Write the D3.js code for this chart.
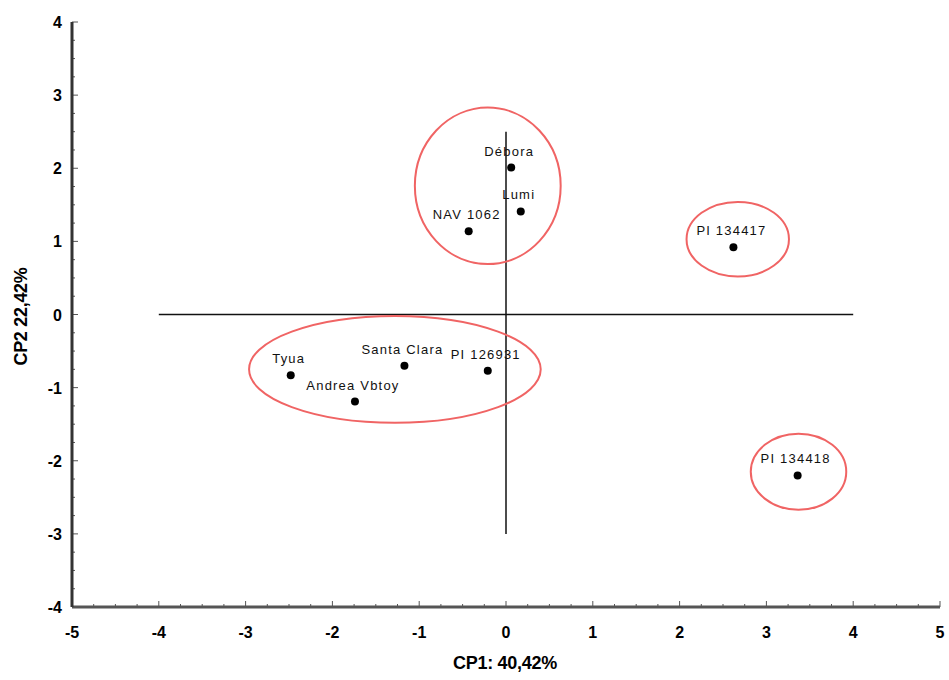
<!DOCTYPE html>
<html>
<head>
<meta charset="utf-8">
<script src="https://cdn.jsdelivr.net/npm/d3@7"></script>
<style>
  body { margin: 0; background: #fff; }
  svg text { font-family: "Liberation Sans", Arial, sans-serif; }
</style>
</head>
<body>
<div id="chart"></div>
<script>
// genotype scores on the first two principal components
const genotypes = ["Débora", "Lumi", "NAV 1062", "PI 134417", "PI 134418", "Tyua", "Andrea Vbtoy", "Santa Clara", "PI 126931"];
const cp1 = [0.06, 0.17, -0.43, 2.62, 3.36, -2.48, -1.74, -1.17, -0.21];
const cp2 = [2.01, 1.41, 1.14, 0.92, -2.20, -0.83, -1.19, -0.70, -0.77];

// group ellipses (centre and radii in axis units)
const groupCx = [-0.21, 2.67, -1.28, 3.37];
const groupCy = [1.76, 1.03, -0.75, -2.15];
const groupRx = [0.84, 0.59, 1.68, 0.55];
const groupRy = [1.07, 0.51, 0.73, 0.52];

const xTicks = [-5, -4, -3, -2, -1, 0, 1, 2, 3, 4, 5];
const yTicks = [-4, -3, -2, -1, 0, 1, 2, 3, 4];

const width = 949, height = 680;
const svg = d3.select("#chart").append("svg")
    .attr("width", width).attr("height", height);

const x = d3.scaleLinear().domain([-5, 5]).range([72, 940]),
    y = d3.scaleLinear().domain([-4, 4]).range([607, 22]);

// minor ticks
const xMinor = d3.range(-5, 5.001, 0.25), yMinor = d3.range(-4, 4.001, 0.25);

const axisColor = "#555";

svg.append("g").selectAll("line")
    .data(xMinor).enter().append("line")
    .attr("x1", d => x(d)).attr("x2", d => x(d))
    .attr("y1", y(-4)).attr("y2", d => y(-4) - (Number.isInteger(d) ? 6 : 3))
    .attr("stroke", axisColor).attr("stroke-width", 1);

svg.append("g").selectAll("line")
    .data(yMinor).enter().append("line")
    .attr("y1", d => y(d)).attr("y2", d => y(d))
    .attr("x1", x(-5)).attr("x2", d => x(-5) + (Number.isInteger(d) ? 6 : 3))
    .attr("stroke", axisColor).attr("stroke-width", 1);

// axis lines
svg.append("line")
    .attr("x1", x(-5)).attr("x2", x(5)).attr("y1", y(-4)).attr("y2", y(-4))
    .attr("stroke", axisColor).attr("stroke-width", 3);
svg.append("line")
    .attr("x1", x(-5)).attr("x2", x(-5)).attr("y1", y(4)).attr("y2", y(-4))
    .attr("stroke", "#333").attr("stroke-width", 3);

// tick labels
svg.append("g").selectAll("text")
    .data(xTicks).enter().append("text")
    .attr("x", d => x(d)).attr("y", 638)
    .attr("text-anchor", "middle")
    .attr("font-size", 16).attr("font-weight", "bold")
    .text(d => d);

svg.append("g").selectAll("text")
    .data(yTicks).enter().append("text")
    .attr("x", 62).attr("y", d => y(d) + 6)
    .attr("text-anchor", "end")
    .attr("font-size", 16).attr("font-weight", "bold")
    .text(d => d);

// axis titles
svg.append("text")
    .attr("x", 505).attr("y", 669)
    .attr("text-anchor", "middle")
    .attr("font-size", 18).attr("font-weight", "bold")
    .attr("letter-spacing", -0.3)
    .text("CP1: 40,42%");

svg.append("text")
    .attr("transform", "translate(27," + (y(0) + 2) + ") rotate(-90)")
    .attr("text-anchor", "middle")
    .attr("font-size", 18).attr("font-weight", "bold")
    .attr("letter-spacing", -0.3)
    .text("CP2 22,42%");

// crosshair through origin
svg.append("line")
    .attr("x1", x(-4)).attr("x2", x(4)).attr("y1", y(0)).attr("y2", y(0))
    .attr("stroke", "#111").attr("stroke-width", 1.5);
svg.append("line")
    .attr("x1", x(0)).attr("x2", x(0)).attr("y1", y(2.5)).attr("y2", y(-3))
    .attr("stroke", "#111").attr("stroke-width", 1.5);

// group ellipses
svg.append("g").selectAll("ellipse")
    .data(groupCx).enter().append("ellipse")
    .attr("cx", d => x(d))
    .attr("cy", (d, i) => y(groupCy[i]))
    .attr("rx", (d, i) => x(groupRx[i]) - x(0))
    .attr("ry", (d, i) => y(0) - y(groupRy[i]))
    .attr("fill", "none")
    .attr("stroke", "#f06464").attr("stroke-width", 2);

// points and labels
const pts = svg.append("g").selectAll("g")
    .data(genotypes).enter().append("g");

pts.append("circle")
    .attr("cx", (d, i) => x(cp1[i]))
    .attr("cy", (d, i) => y(cp2[i]))
    .attr("r", 4).attr("fill", "#000");

pts.append("text")
    .attr("x", (d, i) => x(cp1[i]) - 2)
    .attr("y", (d, i) => y(cp2[i]) - 12)
    .attr("text-anchor", "middle")
    .attr("font-size", 13).attr("letter-spacing", 1.2)
    .attr("fill", "#111")
    .text(d => d);
</script>
</body>
</html>
